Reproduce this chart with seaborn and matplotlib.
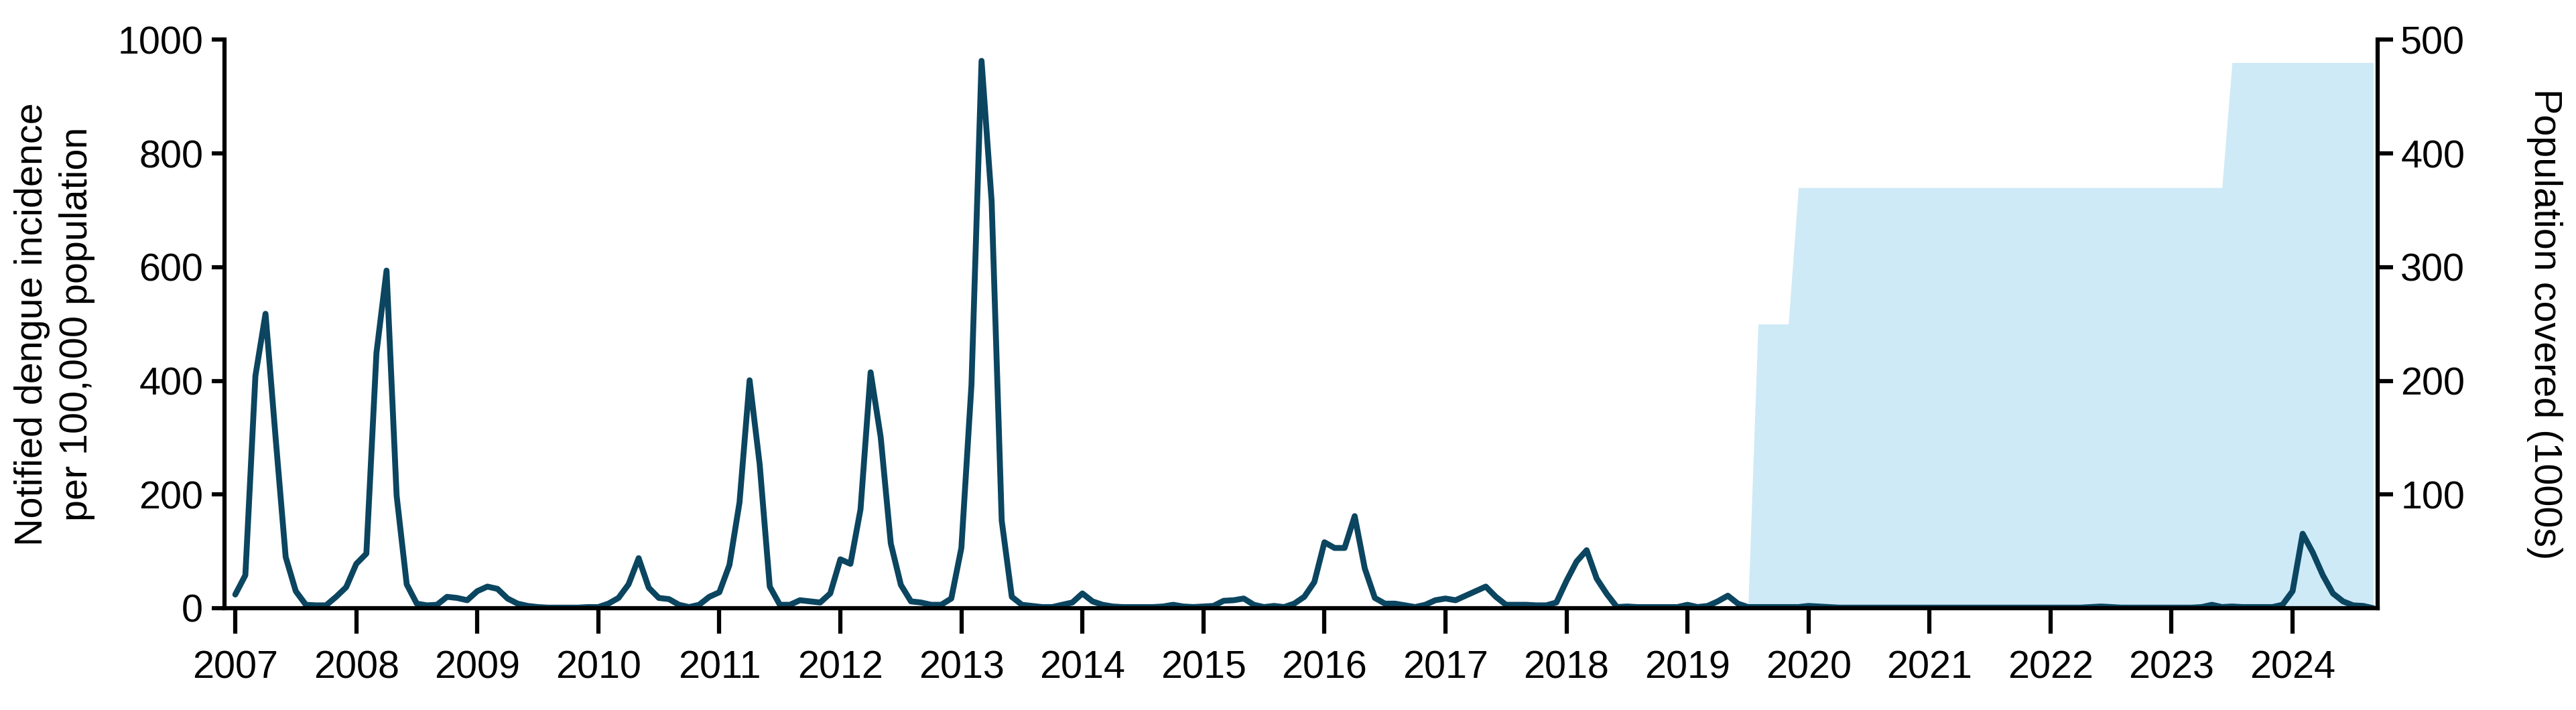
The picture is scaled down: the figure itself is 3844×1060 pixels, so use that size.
import numpy as np
import pandas as pd
import matplotlib
matplotlib.use("Agg")
import matplotlib.pyplot as plt
import seaborn as sns

# Monthly notified dengue incidence per 100,000 population (Jan 2007 - Sep 2024)
inc_2007 = [24, 58, 409, 518, 300, 90, 30, 6, 5, 5, 20, 37]
inc_2008 = [78, 96, 449, 594, 198, 42, 8, 5, 6, 20, 18, 14]
inc_2009 = [30, 38, 34, 17, 8, 4, 2, 1, 1, 1, 1, 2]
inc_2010 = [2, 8, 18, 42, 88, 36, 18, 16, 6, 2, 6, 20]
inc_2011 = [28, 76, 186, 401, 253, 38, 6, 6, 14, 12, 10, 26]
inc_2012 = [86, 78, 174, 415, 301, 114, 41, 12, 10, 6, 6, 17]
inc_2013 = [106, 393, 963, 716, 154, 20, 6, 4, 2, 2, 6, 10]
inc_2014 = [26, 12, 6, 3, 2, 2, 2, 2, 3, 6, 3, 2]
inc_2015 = [3, 4, 13, 14, 17, 6, 2, 4, 2, 8, 20, 46]
inc_2016 = [116, 106, 106, 162, 70, 18, 8, 8, 5, 2, 6, 14]
inc_2017 = [17, 14, 22, 30, 38, 20, 6, 6, 6, 5, 5, 10]
inc_2018 = [48, 82, 102, 52, 25, 2, 3, 2, 2, 2, 2, 2]
inc_2019 = [6, 2, 4, 12, 22, 8, 2, 2, 2, 2, 2, 2]
inc_2020 = [4, 3, 2, 1, 1, 1, 1, 1, 1, 1, 1, 1]
inc_2021 = [1, 1, 1, 1, 1, 1, 1, 1, 1, 1, 1, 1]
inc_2022 = [1, 1, 1, 1, 2, 3, 2, 1, 1, 1, 1, 1]
inc_2023 = [1, 1, 1, 2, 6, 2, 3, 2, 2, 2, 2, 6]
inc_2024 = [30, 131, 98, 58, 26, 12, 5, 4, 0]

# Population covered (1000s): step changes
coverage_change_months = ["2019-08", "2019-12", "2023-07"]
coverage_levels = [250, 370, 480]

year_ticks = list(range(2007, 2025))
left_ticks = [0, 200, 400, 600, 800, 1000]
right_ticks = [100, 200, 300, 400, 500]

incidence = (inc_2007 + inc_2008 + inc_2009 + inc_2010 + inc_2011 + inc_2012 +
             inc_2013 + inc_2014 + inc_2015 + inc_2016 + inc_2017 + inc_2018 +
             inc_2019 + inc_2020 + inc_2021 + inc_2022 + inc_2023 + inc_2024)
months = pd.date_range("2007-01-01", periods=len(incidence), freq="MS")
tdec = np.asarray(months.year + (months.month - 1) / 12.0, dtype=float)

pop = pd.Series(np.nan, index=months)
pop.iloc[0] = 0
for m, v in zip(coverage_change_months, coverage_levels):
    pop[pd.Timestamp(m + "-01")] = v
pop = pop.ffill().values

df = pd.DataFrame({"t": tdec, "incidence": incidence})

sns.set_theme(style="ticks")
plt.rcParams['font.family'] = ['Liberation Sans', 'DejaVu Sans']

FS = 13.8
fig = plt.figure(figsize=(3844 / 300, 1060 / 300), dpi=300)
ax = fig.add_axes([0.0871, 0.1434, 0.9231 - 0.0871, 0.9439 - 0.1434])
ax2 = ax.twinx()

ax2.fill_between(tdec, 0, pop, color="#CEEAF6", linewidth=0)
ax.set_zorder(ax2.get_zorder() + 1)
ax.patch.set_visible(False)

sns.lineplot(data=df, x="t", y="incidence", ax=ax, color="#0B4560", linewidth=2.1)

ax.set_xlim(2006.91, 2024.705)
ax.set_ylim(0, 1000)
ax2.set_ylim(0, 500)

ax.set_xticks(year_ticks)
ax.set_xticklabels([str(y) for y in year_ticks], fontsize=FS)
ax.set_yticks(left_ticks)
ax.set_yticklabels([str(v) for v in left_ticks], fontsize=FS)
ax2.set_yticks(right_ticks)
ax2.set_yticklabels([str(v) for v in right_ticks], fontsize=FS)

for s in ["top", "right"]:
    ax.spines[s].set_visible(False)
for s in ["top", "left", "bottom"]:
    ax2.spines[s].set_visible(False)
for s in ["left", "bottom"]:
    ax.spines[s].set_linewidth(1.5)
    ax.spines[s].set_color("black")
ax2.spines["right"].set_linewidth(1.5)
ax2.spines["right"].set_color("black")

ax.tick_params(axis="x", length=9, width=1.5, pad=6, colors="black", labelsize=FS)
ax.tick_params(axis="y", length=4.6, width=1.5, pad=3, colors="black", labelsize=FS)
ax2.tick_params(axis="y", length=5.5, width=1.5, pad=2.6, colors="black", labelsize=FS)

ax.set_xlabel("")
ax.set_ylabel("Notified dengue incidence\nper 100,000 population", fontsize=FS,
              labelpad=8, linespacing=1.3, color="black")
ax2.set_ylabel("Population covered (1000s)", fontsize=FS, rotation=270,
               labelpad=22, color="black", va="bottom")

fig.savefig("out.png", dpi=300)
